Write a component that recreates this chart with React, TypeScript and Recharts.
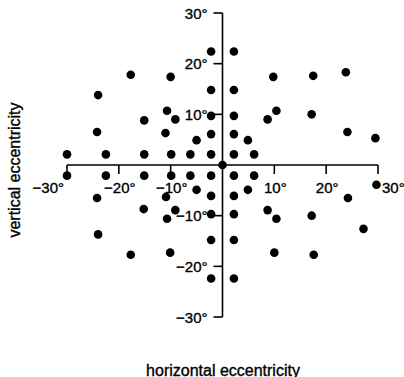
import React from "react";
import {
  ScatterChart,
  Scatter,
  XAxis,
  YAxis,
  ReferenceLine,
  ReferenceDot,
  Customized,
} from "recharts";

// horizontal eccentricity (deg) of each test location
const horizontal = [
  -2.2, 2.2, -17.7, -10.0, 9.8, 17.5, 23.8,
  -24.0, -2.2, 2.2,
  -10.7, -9.1, -15.1, -2.2, 2.2, 8.7, 10.4, 17.2,
  -24.2, -11.0, -5.0, -2.2, 2.2, 4.9, 24.1, 29.5,
  -30.0, -22.5, -15.1, -9.9, -6.2, -2.2, 2.2, 6.1,
  0,
  -30.0, -22.5, -15.1, -9.9, -6.2, -2.2, 2.2, 6.1,
  29.7, -5.0, 4.9,
  -24.2, -10.9, -2.2, 2.2, 24.2,
  -15.2, -9.1, -10.7, -2.2, 2.2, 8.7, 10.4, 17.2,
  27.2, -24.0, -2.2, 2.2,
  -17.7, -10.1, 10.0, 17.6,
  -2.2, 2.2,
];

// vertical eccentricity (deg) of each test location
const vertical = [
  22.4, 22.4, 17.8, 17.4, 17.4, 17.6, 18.3,
  13.8, 14.8, 14.8,
  10.7, 9.0, 8.8, 9.7, 9.7, 9.0, 10.7, 10.0,
  6.5, 6.3, 4.9, 6.1, 6.1, 4.9, 6.5, 5.3,
  2.1, 2.1, 2.1, 2.1, 2.1, 2.1, 2.1, 2.1,
  0,
  -2.1, -2.1, -2.1, -2.1, -2.1, -2.1, -2.1, -2.1,
  -3.9, -4.9, -4.9,
  -6.5, -6.3, -6.1, -6.1, -6.5,
  -8.7, -8.9, -10.6, -9.7, -9.7, -8.9, -10.6, -10.0,
  -12.6, -13.7, -14.8, -14.8,
  -17.7, -17.3, -17.3, -17.7,
  -22.4, -22.4,
];

const xTicks = [-30, -20, -10, 10, 20, 30];
const yTicks = [30, 20, 10, -10, -20, -30];

const data = horizontal.map((x, i) => ({ x, y: vertical[i] }));

const FONT = "'Liberation Sans', Arial, Helvetica, sans-serif";
const fmt = (v: number) => (v < 0 ? `\u2212${Math.abs(v)}\u00b0` : `${v}\u00b0`);
const textStyle = { stroke: "#000", strokeWidth: 0.35 } as const;

const makeXTick = (v: number) => (p: any) => {
  const anchor = v === -30 ? "end" : v === 30 ? "start" : "middle";
  const dx = v === -30 ? -3 : v === 30 ? 4 : 1;
  return (
    <g>
      <line x1={p.cx} y1={p.cy} x2={p.cx} y2={p.cy + 9} stroke="#000" strokeWidth={1.6} />
      <text
        x={p.cx + dx}
        y={p.cy + 22}
        textAnchor={anchor}
        dominantBaseline="central"
        fontFamily={FONT}
        fontSize={15}
        fill="#000"
        style={textStyle}
      >
        {fmt(v)}
      </text>
    </g>
  );
};

const makeYTick = (v: number) => (p: any) => (
  <g>
    <line x1={p.cx - 9} y1={p.cy} x2={p.cx} y2={p.cy} stroke="#000" strokeWidth={1.6} />
    <text
      x={p.cx - 15}
      y={p.cy}
      textAnchor="end"
      dominantBaseline="central"
      fontFamily={FONT}
      fontSize={15}
      fill="#000"
      style={textStyle}
    >
      {fmt(v)}
    </text>
  </g>
);

const Titles = () => (
  <g>
    <text
      x={223}
      y={370}
      textAnchor="middle"
      dominantBaseline="central"
      fontFamily={FONT}
      fontSize={16}
      fill="#000"
      style={textStyle}
    >
      horizontal eccentricity
    </text>
    <text
      x={14}
      y={170}
      transform="rotate(-90 14 170)"
      textAnchor="middle"
      dominantBaseline="central"
      fontFamily={FONT}
      fontSize={16}
      fill="#000"
      style={textStyle}
    >
      vertical eccentricity
    </text>
  </g>
);

const Dot = (p: any) => <circle cx={p.cx} cy={p.cy} r={4.3} fill="#000" />;

export default function App() {
  return (
    <div style={{ position: "absolute", left: 0, top: 0, background: "#fff" }}>
      <ScatterChart
        width={404}
        height={377}
        margin={{ top: 13, right: 26, bottom: 60, left: 67 }}
      >
        <XAxis type="number" dataKey="x" domain={[-30, 30]} hide />
        <YAxis type="number" dataKey="y" domain={[-30, 30]} hide />
        <ReferenceLine y={0} stroke="#000" strokeWidth={1.6} />
        <ReferenceLine x={0} stroke="#000" strokeWidth={1.6} />
        {xTicks.map((v) => (
          <ReferenceDot key={`x${v}`} x={v} y={0} r={0} shape={makeXTick(v)} />
        ))}
        {yTicks.map((v) => (
          <ReferenceDot key={`y${v}`} x={0} y={v} r={0} shape={makeYTick(v)} />
        ))}
        <Scatter data={data} shape={Dot} isAnimationActive={false} />
        <Customized component={Titles} />
      </ScatterChart>
    </div>
  );
}
